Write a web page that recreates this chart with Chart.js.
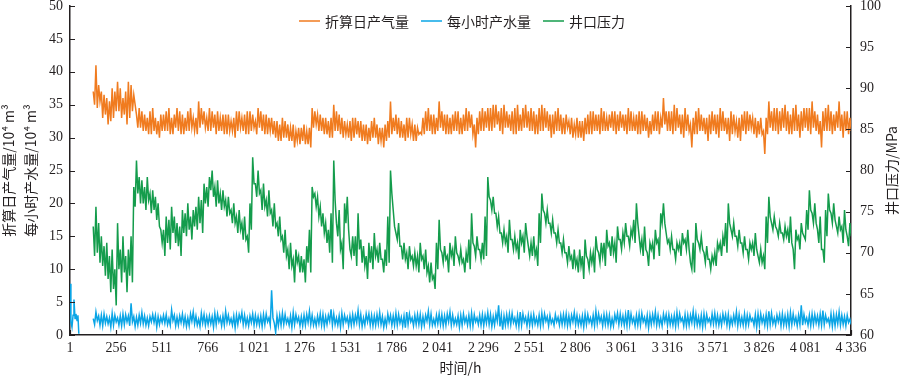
<!DOCTYPE html>
<html>
<head>
<meta charset="utf-8">
<script src="https://cdn.jsdelivr.net/npm/chart.js@4.4.0/dist/chart.umd.min.js"></script>
<style>
  html, body { margin: 0; padding: 0; background: #fff; }
</style>
</head>
<body>
<canvas id="chart" width="900" height="376"></canvas>
<script>
// upper and lower reading inside each 15 h window, windows from hour 130
const startHour = 130;
const stepHour = 15;

const gasHigh = [
  37, 41, 38, 37, 36.5, 36, 35.5, 37.5, 37,
  38.5, 37.5, 36, 37, 38.5, 38, 36.5, 33.5, 34.5, 34, 33.5, 33, 34, 34.5, 33, 32.5, 33.5,
  33.5, 34, 34.5, 33, 33.5, 34.5, 34, 33.5, 33, 34, 34.5, 33, 33, 35.5, 34.5, 34, 33,
  34.5, 34, 33.5, 34, 33, 33.5, 33.5, 33.5, 32.5, 33, 34, 34, 33, 33.5, 34, 34, 33.5,
  32.5, 34.5, 34, 33.5, 33.5, 33, 33, 32.5, 32.5, 32, 33, 32.5, 32, 31.5, 32, 31, 31.5,
  31.5, 32, 31, 31.5, 34.5, 34, 33.5, 33.5, 33, 33, 32.5, 33, 35, 34, 33.5, 33, 32.5,
  32, 32.5, 33, 33, 32.5, 32.5, 32, 32, 31.5, 32.5, 33, 32, 31.5, 31.5, 32, 32.5, 35.5,
  33, 33.5, 33, 32.5, 32, 33, 33, 32, 32, 31.5, 30.8, 33, 34, 34.5, 33.5, 33.5, 33,
  35.5, 34, 33.5, 33.5, 33, 33.5, 34, 34, 33, 33.5, 34.5, 34, 33.5, 32, 33, 34, 34.5,
  34, 34.5, 34.5, 35, 35, 34, 34.5, 35, 34, 33.5, 34, 34.5, 35, 33.5, 34.5, 35, 34,
  34.5, 34, 33.5, 34.5, 35, 34.5, 34, 33.5, 33.5, 34, 34.5, 33.5, 33, 33.5, 32.5, 33, 32,
  33, 32.5, 32.5, 33, 33.5, 34, 34, 33.5, 33.5, 34.5, 34, 33, 33.5, 34, 34, 33.5, 34,
  33.5, 33.5, 34.5, 34, 33, 33.5, 34, 34, 33.5, 33, 32.5, 33.5, 34, 34, 33, 36, 34,
  34, 34, 35, 34.5, 33.5, 33.5, 34.5, 33.5, 32, 33, 34, 34.5, 33.5, 33, 33, 33.5, 34,
  33.5, 33.5, 34.5, 34, 33, 33, 34, 33.5, 32.5, 33, 33.5, 34, 34, 33.5, 33, 33, 32.5,
  33, 31, 33, 35.5, 34, 34.5, 34.5, 34, 34.5, 35, 34, 33.5, 34.5, 35, 33.5, 34, 34.5,
  34.5, 34.5, 35.5, 34, 33.5, 32.5, 34, 34.5, 35, 34, 33.5, 34, 35.5, 33.5, 34, 34, 33
];
const gasLow = [
  35, 34.5, 35.5, 33, 33.5, 32, 32.5, 33, 34,
  34, 33, 33.5, 32, 33, 34, 35, 31.5, 31.5, 31, 31, 30.5, 30.5, 31, 30.5, 30, 31,
  31, 31, 30.5, 30.5, 31.5, 31, 30.5, 30.5, 31, 31, 31.5, 31, 30.5, 31.5, 32, 31.5, 31,
  31, 31.5, 30.5, 31, 31, 30.5, 30.5, 31, 31, 30, 31, 31.5, 31, 30.5, 30.5, 31, 31.5,
  30.5, 31.5, 31, 30.5, 30.5, 31, 30.5, 30, 29.5, 29.5, 30, 30, 29.5, 29.5, 28.5, 29.5, 29,
  29.5, 29, 29, 28.5, 31.5, 32, 31, 31, 30.5, 30.5, 30, 30, 31, 31, 30.5, 30, 30.5,
  30, 29.5, 30, 30.5, 30, 29.5, 29.5, 29, 29.5, 30, 30, 29, 29.5, 28.5, 29.5, 30, 30.5,
  31, 30.5, 30, 30, 29.5, 30, 30.5, 29.5, 29.5, 30.5, 30.5, 30.5, 31, 31, 30.5, 30.5, 31,
  31.5, 31, 30.5, 30.5, 30.5, 31, 31, 30.5, 30.5, 31, 31, 31.5, 30.5, 28.5, 30.5, 31, 31,
  31.5, 31, 31, 31.5, 32, 31, 30.5, 31.5, 31.5, 31, 30.5, 30.5, 31, 31, 31.5, 31.5, 31,
  31, 30.5, 30.5, 31, 31, 31.5, 31, 30, 30.5, 31, 31, 30.5, 30.5, 31.5, 30.5, 30, 30.5,
  30, 30, 29.5, 30.5, 30.5, 30.5, 31, 31, 30.5, 31, 31, 31, 31.5, 31, 30.5, 31, 31.5,
  31, 30.5, 31, 31, 31, 30.5, 30.5, 31, 31, 30, 30.5, 31, 31, 30.5, 31.5, 32, 31,
  31, 30.5, 31, 31.5, 30.5, 30, 31, 31, 28.5, 30.5, 30.5, 31, 31, 30.5, 29.5, 30.5, 31,
  30.5, 30, 31, 31, 30.5, 29.5, 30.5, 31, 30, 29.5, 31, 30.5, 31, 31.5, 30.5, 30, 30.5,
  30.5, 27.5, 30.5, 31.5, 31, 31, 30.5, 31, 31.5, 31, 30.5, 30.5, 31, 31, 30, 31, 31.5,
  31, 30.5, 31.5, 31, 30.5, 28.5, 31, 31, 31, 30.5, 31, 31.5, 31, 30, 31, 30.5, 31
];

const waterHigh = [
  2.5, 3.5, 2.9, 3, 3.2, 2.8, 2.6, 3.3, 3,
  2.6, 2.9, 3.2, 3.1, 2.9, 4.8, 2.8, 2.7, 3, 3.4, 2.9, 2.6, 2.8, 3.1, 3, 2.8, 2.7,
  3, 3.1, 2.5, 3.8, 3, 2.7, 2.9, 3.2, 2.8, 2.6, 3.2, 3.5, 2.9, 2.4, 3.3, 3.1, 2.8,
  2.9, 2.8, 3.3, 3.2, 2.7, 2.9, 3.6, 3, 2.5, 2.9, 3, 3.1, 3.4, 3, 2.6, 2.9, 3.2,
  3, 2.8, 2.9, 3.1, 3.2, 2.6, 6.8, 1.8, 2.9, 3, 3.3, 3.1, 2.5, 2.9, 3.4, 3.1, 2.7,
  2.8, 3, 3.1, 3.6, 3, 2.5, 2.9, 3.2, 3.1, 2.8, 3, 3.9, 3.2, 2.6, 2.9, 3.3, 3,
  2.7, 2.9, 3.1, 3, 3.7, 3.1, 2.6, 3.2, 3.2, 3, 2.9, 3.1, 3.4, 2.8, 2.5, 3.2, 3,
  2.9, 3.3, 3.1, 2.7, 2.9, 3.5, 3.2, 2.6, 3, 3.1, 3.1, 2.8, 3, 3.6, 3.2, 2.4, 3,
  3.2, 3.1, 2.9, 3.2, 3.5, 3, 2.5, 2.9, 3, 3.2, 2.7, 3, 3.3, 3.1, 2.6, 3, 3.1,
  3, 3.4, 3.1, 2.8, 3.2, 4.5, 3, 2.9, 3.1, 3.2, 3.3, 2.6, 3, 3.5, 3.2, 2.7, 3,
  3, 3.1, 2.6, 3, 3.3, 3.2, 2.8, 3, 2.4, 3.1, 2.7, 3, 3.1, 3.2, 2.9, 3, 3.4,
  3, 2.7, 2.9, 3.2, 3.1, 2.6, 3, 3.6, 3.2, 2.8, 3.1, 3.1, 3, 2.5, 3.1, 3.3, 3.2,
  2.9, 3.1, 3.8, 3.2, 2.6, 3, 3.2, 3.3, 2.7, 3, 3, 3.1, 3.5, 3, 2.6, 3.2, 3.1,
  3.1, 2.8, 3, 3.4, 3.2, 2.6, 3.1, 3, 3, 3.6, 3.2, 2.7, 3, 3.2, 3.1, 2.5, 3.2,
  3.3, 3, 2.8, 3.2, 3.1, 3.1, 2.6, 3, 3.5, 3.1, 2.7, 3.2, 3, 3, 2.5, 3.1, 3.2,
  3.2, 2.8, 3.1, 3.6, 3.3, 2.6, 3, 3.1, 3.2, 2.9, 3.1, 3.4, 3.2, 2.7, 3, 4.5, 3.1,
  2.6, 3, 3.2, 3.1, 2.9, 3.2, 3.7, 3, 2.5, 3.2, 3.1, 3.1, 3.5, 3, 2.8, 3, 2.4
];
const waterLow = [
  1.6, 2.2, 1.5, 1.4, 1.8, 1.7, 1.2, 1.5, 2,
  1.5, 1.4, 1.6, 2, 1.4, 2, 1.3, 1.5, 1.8, 1.7, 1.5, 1.4, 2, 1.9, 1.2, 1.6, 1.9,
  1.8, 1.6, 1.5, 2.2, 1.4, 1.5, 1.9, 1.6, 1.3, 1.4, 2.1, 1.7, 1.5, 1.3, 1.8, 1.5, 1.6,
  1.7, 1.2, 1.6, 2, 1.4, 1.5, 1.9, 1.8, 1.5, 1.1, 1.6, 2.2, 1.6, 1.5, 1.4, 1.9, 1.5,
  1.6, 1.5, 1.3, 1.6, 2, 1.5, 2.6, 0.4, 1.4, 1.5, 1.6, 1.8, 1.5, 1.2, 1.6, 2, 1.4,
  1.4, 1.5, 1.9, 1.6, 1.5, 1.4, 1.7, 1.5, 1.3, 1.6, 2.1, 1.5, 1.6, 1.5, 1.2, 1.6, 2,
  1.4, 1.5, 1.6, 1.9, 1.6, 1.3, 1.5, 2, 1.5, 1.4, 1.5, 1.7, 1.6, 1.2, 1.4, 2, 1.5,
  1.5, 1.5, 1.8, 1.4, 1.1, 1.6, 2, 1.4, 1.6, 1.6, 1.3, 1.5, 2.1, 1.6, 1.5, 1.5, 1.7,
  1.6, 1.4, 1.5, 2, 1.5, 1.6, 1.6, 1.2, 1.5, 1.9, 1.5, 1.4, 1.4, 2, 1.6, 1.5, 1.4,
  1.8, 1.6, 1.3, 1.5, 2.1, 1.3, 0.8, 1.5, 1.6, 1.6, 1.9, 1.4, 1.3, 1.5, 2, 1.4, 1.5,
  1.5, 1.7, 1.5, 1.4, 1.6, 2.1, 1.4, 1.8, 1.5, 2, 1.5, 1.6, 1.6, 1.4, 1.5, 2, 1.6,
  1.5, 1.5, 1.2, 1.6, 1.9, 1.5, 1.4, 1.7, 2, 1.4, 1.6, 1.5, 1.3, 1.4, 2.1, 1.6, 1.7,
  1.5, 1.4, 1.6, 1.9, 1.4, 1.5, 1.5, 2, 1.5, 1.1, 1.6, 1.8, 1.5, 1.5, 1.4, 2, 1.5,
  1.6, 1.5, 1.3, 1.6, 2.1, 1.4, 1.4, 1.5, 1.9, 1.6, 1.5, 1.4, 1.2, 1.5, 2, 1.6, 1.7,
  1.6, 1.5, 1.5, 2, 1.5, 1.3, 1.6, 1.8, 1.4, 1.6, 1.5, 1.4, 1.6, 2.1, 1.5, 1.2, 1.5,
  1.9, 1.5, 1.4, 1.6, 1.7, 1.5, 2, 1.4, 1.5, 1.5, 1.3, 1.6, 1.8, 1.4, 1.6, 1.5, 1.9,
  1.5, 1.4, 1.6, 1.8, 1.5, 1.5, 1.6, 2, 1.5, 1.3, 1.4, 1.7, 1.5, 1.6, 1.4, 1.9, 1.6
];

// first hours of the water record, before the gap
const waterEarlyHours = [1, 6, 12, 18, 23, 29, 34, 40, 45, 50];
const waterEarly = [7.8, 2, 1.2, 3, 5.4, 2.5, 3.2, 2.2, 3, 0.2];

const pressureHigh = [
  73.2, 75.6, 73.6, 72, 70.8, 71.2, 69.6, 70.4, 68,
  73.6, 70.4, 72, 69.6, 70.4, 72, 78, 81.2, 79.2, 78.8, 78, 79.2, 77.2, 77.6, 76.8, 76, 72.8,
  72.8, 74.4, 74, 75.6, 74.4, 73.6, 73.2, 75.2, 74.8, 76, 74.4, 75.2, 75.6, 76.8, 76.4, 78.4, 78,
  79.2, 80, 78, 78.8, 77.2, 77.6, 76.4, 76.8, 75.2, 76, 74.4, 75.2, 73.6, 74.4, 72, 76, 81.6,
  78.4, 80, 77.6, 78.4, 76.4, 77.6, 75.2, 76, 73.6, 74.4, 72, 72.8, 70.4, 71.2, 69.2, 70.4, 69.6,
  69.6, 69.2, 70.8, 72.8, 78, 77.2, 76.8, 75.6, 74.8, 73.6, 72.8, 74.8, 81.2, 73.6, 75.2, 71.2, 76,
  76.8, 70.4, 72, 72, 74.8, 71.6, 70.8, 69.6, 71.2, 70.8, 72.4, 70.4, 71.2, 69.2, 70.4, 74.4, 80,
  75.2, 72.4, 73.6, 70.8, 71.2, 70, 70.8, 69.6, 70, 69.6, 71.2, 69.6, 70.4, 68.4, 68.8, 67.2, 71.2,
  74, 70, 70.8, 69.6, 71.2, 70.4, 72, 69.6, 70.4, 69.2, 70, 71.6, 74.8, 70.8, 72, 70.4, 71.2,
  74.4, 79.2, 76.4, 76.8, 74.8, 74.4, 72.4, 72.8, 72, 74, 71.6, 72, 71.2, 72.8, 72, 73.6, 70.8,
  71.2, 72, 70.4, 74.8, 77.2, 74.8, 75.2, 73.6, 74, 72.4, 72.8, 71.2, 71.6, 70, 70.8, 69.6, 70.4,
  69.2, 70.4, 69.6, 71.6, 69.2, 70, 70, 72, 70, 71.2, 71.2, 72.8, 71.2, 72, 71.2, 73.2, 71.6,
  72.4, 73.6, 72, 72.8, 74, 76, 72, 71.6, 73.2, 70, 71.2, 71.2, 72.8, 71.6, 74.8, 76, 72.4,
  71.6, 72, 70.4, 71.2, 71.2, 72.4, 71.6, 72.8, 68.8, 71.2, 73.6, 71.2, 72, 70, 70.8, 69.2, 69.6,
  70, 71.2, 71.2, 72, 73.6, 76, 72.8, 73.6, 72, 72.8, 71.2, 72, 70.4, 71.2, 71.2, 72.4, 69.6,
  70.4, 69.6, 74.4, 76.8, 73.6, 74.4, 72.8, 73.6, 72.4, 73.2, 72.8, 74.4, 70.4, 72.8, 72, 73.6, 72,
  75.2, 77.6, 74.8, 76, 72.8, 74.4, 70.4, 75.2, 77.2, 74.8, 76, 73.2, 74.4, 73.2, 75.2, 72, 73.6
];
const pressureLow = [
  69.6, 70, 68.8, 68.4, 67.2, 66.8, 65.2, 65.6, 63.6,
  68, 66.4, 67.6, 65.2, 67.2, 66.4, 75.6, 77.2, 76, 76, 75.2, 76.4, 74.8, 75.2, 74, 73.2, 71.2,
  69.6, 71.2, 70.4, 72.4, 71.2, 70.8, 69.6, 72.4, 72, 72.8, 71.6, 73.2, 72.8, 73.6, 72.4, 76, 75.6,
  77.6, 76.8, 75.6, 76, 75.2, 75.6, 74.4, 74.8, 73.6, 73.6, 72.4, 72.8, 71.6, 71.6, 70, 72.8, 78.4,
  76.8, 77.2, 75.2, 75.6, 74.4, 74.8, 73.2, 73.2, 72, 71.6, 70, 69.6, 68, 68.4, 66.4, 68.8, 67.6,
  67.6, 66.4, 68.8, 67.6, 76.8, 75.6, 74.4, 73.2, 72.4, 71.2, 70, 68.8, 76.4, 72, 70.4, 68, 73.6,
  72.8, 69.6, 69.6, 68.4, 70.4, 68.8, 68.4, 66.8, 68.8, 68, 69.6, 68.8, 69.2, 67.6, 68.4, 68.8, 77.2,
  73.2, 71.6, 70.8, 69.2, 69.2, 68, 69.2, 68.4, 68.4, 67.6, 69.2, 68, 67.6, 66.4, 66.8, 65.6, 68,
  70.4, 68.8, 69.2, 67.6, 69.6, 68.4, 70, 68.8, 68.8, 67.6, 68.8, 68, 71.2, 69.6, 70.4, 69.2, 69.2,
  69.6, 76.8, 75.2, 74.8, 73.2, 72.4, 71.2, 71.2, 70, 71.6, 70.4, 70.4, 69.2, 71.2, 70, 72, 69.6,
  69.6, 69.6, 68.4, 71.2, 75.2, 73.6, 73.6, 72.4, 72.4, 71.2, 71.2, 70, 70, 68.8, 69.2, 68, 68.4,
  67.6, 68.4, 66.8, 69.6, 68, 68.8, 67.6, 70.4, 68.8, 69.6, 68.4, 70.8, 69.6, 70, 68.8, 71.6, 70.4,
  71.2, 72, 70.8, 72, 71.2, 73.6, 70.4, 69.6, 70.4, 68.4, 70.4, 69.2, 71.2, 69.6, 73.6, 73.6, 71.2,
  70.4, 70.4, 69.2, 70.4, 69.6, 71.2, 70.4, 70.4, 68, 67.6, 71.6, 70.4, 70.4, 68.8, 69.2, 68, 68.8,
  68.4, 70.4, 69.6, 70.8, 70, 73.6, 72, 72, 70.8, 71.2, 70, 70.4, 69.2, 70.4, 69.6, 70.4, 68.8,
  68.8, 68, 71.2, 74.4, 72.8, 73.2, 72, 72.4, 71.6, 72, 71.2, 71.2, 68, 71.6, 70.4, 72.4, 71.6,
  72.8, 75.2, 73.6, 73.6, 71.2, 70.4, 68.8, 72, 75.2, 73.6, 74, 72.4, 72.8, 71.2, 72.8, 70.8, 72
];

const xTickValues = [1, 256, 511, 766, 1021, 1276, 1531, 1786, 2041, 2296, 2551, 2806, 3061, 3316, 3571, 3826, 4081, 4336];
const xTickLabels = ['1', '256', '511', '766', '1\u2009021', '1\u2009276', '1\u2009531', '1\u2009786', '2\u2009041',
  '2\u2009296', '2\u2009551', '2\u2009806', '3\u2009061', '3\u2009316', '3\u2009571', '3\u2009826', '4\u2009081', '4\u2009336'];

const seriesNames = ['折算日产气量', '每小时产水量', '井口压力'];
const colors = ['#F07B1F', '#0AA5E6', '#149C4C'];
const textColor = '#231F20';
const axisColor = '#231F20';
const numFont = { family: '"Liberation Serif", "Times New Roman", serif', size: 14 };
const cjkFont = { family: '"Noto Sans CJK SC", sans-serif', size: 14 };

// each window: upper reading at its start, lower reading half-way through
function windowPoints(high, low) {
  const out = [];
  high.forEach((v, i) => {
    const h = startHour + stepHour * i;
    out.push({ x: h, y: v });
    out.push({ x: h + stepHour / 2, y: low[i] });
  });
  return out;
}

const waterPts = waterEarlyHours.map((h, i) => ({ x: h, y: waterEarly[i] }))
  .concat([{ x: 90, y: null }], windowPoints(waterHigh, waterLow));

const decorations = {
  id: 'decorations',
  afterDraw(chart) {
    const ctx = chart.ctx;
    const { left, right, top, bottom } = chart.chartArea;
    const len = 5;
    ctx.save();
    ctx.strokeStyle = axisColor;
    ctx.lineWidth = 1.2;
    ctx.beginPath();
    const xs = chart.scales.x;
    xs.ticks.forEach(t => {
      const px = Math.round(xs.getPixelForValue(t.value)) + 0.5;
      ctx.moveTo(px, bottom);
      ctx.lineTo(px, bottom - len);
    });
    const yl = chart.scales.y;
    yl.ticks.forEach(t => {
      const py = Math.round(yl.getPixelForValue(t.value)) + 0.5;
      ctx.moveTo(left, py);
      ctx.lineTo(left + len, py);
    });
    const yr = chart.scales.y1;
    yr.ticks.forEach(t => {
      const py = Math.round(yr.getPixelForValue(t.value)) + 0.5;
      ctx.moveTo(right, py);
      ctx.lineTo(right - len, py);
    });
    ctx.stroke();

    // legend across the top of the plot
    ctx.font = '14px "Noto Sans CJK SC"';
    ctx.textBaseline = 'middle';
    ctx.textAlign = 'left';
    const lineW = 21, gap = 5, itemGap = 12, ly = 21;
    const widths = seriesNames.map(n => lineW + gap + ctx.measureText(n).width);
    const total = widths.reduce((a, b) => a + b, 0) + itemGap * (widths.length - 1);
    let lx = 462 - total / 2;
    seriesNames.forEach((n, i) => {
      ctx.strokeStyle = colors[i];
      ctx.globalAlpha = 0.75;
      ctx.lineWidth = 2;
      ctx.beginPath();
      ctx.moveTo(lx, ly);
      ctx.lineTo(lx + lineW, ly);
      ctx.stroke();
      ctx.globalAlpha = 1;
      ctx.fillStyle = textColor;
      ctx.fillText(n, lx + lineW + gap, ly + 1);
      lx += widths[i] + itemGap;
    });

    // right axis title, reads bottom to top like the left one
    ctx.translate(892, (top + bottom) / 2);
    ctx.rotate(-Math.PI / 2);
    ctx.textAlign = 'center';
    ctx.fillText('井口压力/MPa', 0, 0);
    ctx.restore();
  }
};

const lineStyle = (i) => ({
  label: seriesNames[i],
  borderColor: colors[i],
  backgroundColor: colors[i],
  borderWidth: 1.5,
  pointRadius: 0,
  tension: 0
});

const noPad = (s) => { s.paddingTop = 0; s.paddingBottom = 0; s.paddingLeft = 0; s.paddingRight = 0; };

new Chart(document.getElementById('chart'), {
  type: 'line',
  data: {
    datasets: [
      Object.assign(lineStyle(0), { data: windowPoints(gasHigh, gasLow), yAxisID: 'y' }),
      Object.assign(lineStyle(1), { data: waterPts, yAxisID: 'y' }),
      Object.assign(lineStyle(2), { data: windowPoints(pressureHigh, pressureLow), yAxisID: 'y1' })
    ]
  },
  options: {
    responsive: false,
    animation: false,
    layout: { padding: { top: 6 } },
    plugins: {
      tooltip: { enabled: false },
      legend: { display: false }
    },
    scales: {
      x: {
        type: 'linear',
        min: 1,
        max: 4336,
        afterBuildTicks: (s) => { s.ticks = xTickValues.map(v => ({ value: v })); },
        afterFit: (s) => { s.height = 41; noPad(s); },
        ticks: {
          color: textColor,
          font: numFont,
          padding: 5,
          maxRotation: 0,
          autoSkip: false,
          callback: (v) => xTickLabels[xTickValues.indexOf(v)]
        },
        grid: { drawOnChartArea: false, drawTicks: false },
        border: { display: true, color: axisColor, width: 1.5 },
        title: {
          display: true,
          text: '时间/h',
          color: textColor,
          font: cjkFont,
          padding: { top: 0, bottom: 0 }
        }
      },
      y: {
        position: 'left',
        min: 0,
        max: 50,
        afterFit: (s) => { s.width = 70; noPad(s); },
        ticks: { stepSize: 5, color: textColor, font: numFont, padding: 7 },
        grid: { drawOnChartArea: false, drawTicks: false },
        border: { display: true, color: axisColor, width: 1.5 },
        title: {
          display: true,
          text: ['折算日产气量/10⁴ m³', '每小时产水量/10⁴ m³'],
          color: textColor,
          font: Object.assign({}, cjkFont, { lineHeight: 1.6 }),
          padding: { top: -3, bottom: 0 }
        }
      },
      y1: {
        position: 'right',
        min: 60,
        max: 100,
        afterFit: (s) => { s.width = 49; noPad(s); },
        ticks: { stepSize: 5, color: textColor, font: numFont, padding: 9 },
        grid: { drawOnChartArea: false, drawTicks: false },
        border: { display: true, color: axisColor, width: 1.5 }
      }
    }
  },
  plugins: [decorations]
});
</script>
</body>
</html>
